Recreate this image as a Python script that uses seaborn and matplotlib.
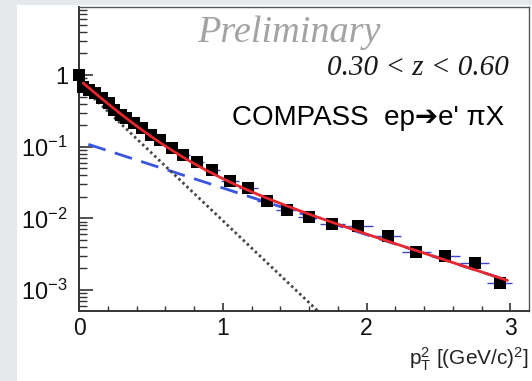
import numpy as np
import pandas as pd
import matplotlib
matplotlib.use("Agg")
import matplotlib.pyplot as plt
import seaborn as sns
from matplotlib.patches import Rectangle
from matplotlib.ticker import FixedLocator, FixedFormatter, LogLocator, NullFormatter, MultipleLocator

# ---------------- data ----------------
pt2 = [0.00, 0.03, 0.07, 0.11, 0.16, 0.21, 0.24, 0.29, 0.33, 0.38,
       0.44, 0.50, 0.564, 0.645, 0.726, 0.819, 0.923, 1.051, 1.178, 1.306,
       1.445, 1.603, 1.763, 1.944, 2.152, 2.345, 2.547, 2.751, 2.925]
yield_norm = [1.0, 0.687, 0.618, 0.556, 0.473, 0.403, 0.325, 0.277, 0.249, 0.212,
              0.181, 0.146, 0.124, 0.095, 0.0766, 0.0618, 0.0466, 0.0332, 0.0263, 0.0175,
              0.0131, 0.0104, 0.0084, 0.0078, 0.0056, 0.0034, 0.0030, 0.0024, 0.00124]
pt2_halfwidth = [0.01, 0.015, 0.02, 0.02, 0.025, 0.025, 0.025, 0.025, 0.025, 0.03,
                 0.03, 0.03, 0.035, 0.04, 0.045, 0.05, 0.055, 0.065, 0.065, 0.065,
                 0.075, 0.08, 0.087, 0.10, 0.09, 0.10, 0.10, 0.10, 0.085]

# two-exponential fit components: A * exp(-b * pT^2)
narrow_A, narrow_b = 0.75, 4.39
wide_A, wide_b = 0.119, 1.50
narrow_range = [0.02, 1.75]
wide_range = [0.065, 3.0]
total_range = [0.03, 2.98]

x_ticks = [0, 1, 2, 3]
x_ticklabels = ["0", "1", "2", "3"]
y_ticks = [1, 1e-1, 1e-2, 1e-3]
y_ticklabels = ["1", r"$10^{-1}$", r"$10^{-2}$", r"$10^{-3}$"]

# ---------------- style ----------------
sns.set_style("ticks")
plt.rcParams["font.family"] = ["Liberation Sans", "DejaVu Sans"]
plt.rcParams["mathtext.fontset"] = "custom"
plt.rcParams["mathtext.rm"] = "Liberation Sans"
plt.rcParams["mathtext.it"] = "Liberation Sans:italic"
plt.rcParams["mathtext.bf"] = "Liberation Sans:bold"

fig = plt.figure(figsize=(5.32, 3.81), dpi=100)
fig.patch.set_facecolor("white")
ax = fig.add_axes([79 / 532, 1 - 311 / 381, 450 / 532, 304 / 381])
ax.set_facecolor("white")

df = pd.DataFrame({"pt2": pt2, "y": yield_norm, "xerr": pt2_halfwidth})

# fit curves
def comp(A, b, rng, n=200):
    xx = np.linspace(rng[0], rng[1], n)
    return xx, A * np.exp(-b * xx)

xn, yn = comp(narrow_A, narrow_b, narrow_range)
xw, yw = comp(wide_A, wide_b, wide_range)
xt = np.linspace(total_range[0], total_range[1], 300)
yt = narrow_A * np.exp(-narrow_b * xt) + wide_A * np.exp(-wide_b * xt)

sns.lineplot(x=xw, y=yw, ax=ax, color="#3a55e0", lw=2.0, zorder=2,
             estimator=None, sort=False)
ax.lines[-1].set_dashes([6.5, 3.5])
sns.lineplot(x=xn, y=yn, ax=ax, color="#444444", lw=2.0, zorder=2,
             estimator=None, sort=False)
ax.lines[-1].set_dashes([0.9, 1.1])

# error bars
ax.errorbar(df["pt2"], df["y"], xerr=df["xerr"], fmt="none",
            ecolor="#3b47c8", elinewidth=1.0, capsize=0, zorder=3, clip_on=False)
# markers
sns.scatterplot(data=df, x="pt2", y="y", ax=ax, marker="s", s=66, color="black",
                edgecolor="black", linewidth=0, zorder=4, clip_on=False)

sns.lineplot(x=xt, y=yt, ax=ax, color="#e8262e", lw=2.0, zorder=5,
             estimator=None, sort=False)

ax.set_yscale("log")
ax.set_xlim(0, 3.13)
ax.set_ylim(5.1e-4, 8.9)

ax.xaxis.set_major_locator(FixedLocator(x_ticks))
ax.xaxis.set_major_formatter(FixedFormatter(x_ticklabels))
ax.xaxis.set_minor_locator(MultipleLocator(0.2))
ax.yaxis.set_major_locator(FixedLocator(y_ticks))
ax.yaxis.set_major_formatter(FixedFormatter(y_ticklabels))
ax.yaxis.set_minor_locator(LogLocator(base=10, subs=np.arange(2, 10)))
ax.yaxis.set_minor_formatter(NullFormatter())

ax.tick_params(axis="both", which="both", direction="in", colors="#333333",
               labelcolor="#111111", top=False, right=False)
ax.tick_params(axis="y", which="major", length=10, width=1.2, labelsize=17, pad=8)
ax.tick_params(axis="y", which="minor", length=6, width=1.0)
ax.tick_params(axis="x", which="major", length=6, width=1.2, labelsize=16.5, pad=4)
ax.tick_params(axis="x", which="minor", length=3.5, width=1.0)

for side in ["left", "bottom"]:
    ax.spines[side].set_color("#333333")
    ax.spines[side].set_linewidth(1.4)
for side in ["top", "right"]:
    ax.spines[side].set_color("#555555")
    ax.spines[side].set_linewidth(1.0)

ax.set_xlabel(r"$\mathrm{p}_{\mathrm{T}}^{2}$ [(GeV/c)$^{2}$]", fontsize=15,
              loc="right", labelpad=4, color="#222222")
ax.set_ylabel("")

# annotations
ax.text(0.467, 0.885, "Preliminary", transform=ax.transAxes, ha="center", va="baseline",
        fontsize=27.5, style="italic", color="#a3a3a3", family="Liberation Serif")
ax.text(0.955, 0.775, "0.30 < z < 0.60", transform=ax.transAxes, ha="right", va="baseline",
        fontsize=21, style="italic", color="#1a1a1a", family="Liberation Serif")
ax.text(0.945, 0.613, "COMPASS  ep\u2794e' \u03c0X", transform=ax.transAxes, ha="right",
        va="baseline", fontsize=20, color="black",
        family=["Liberation Sans", "DejaVu Sans"])

# slide background strips
fig.add_artist(Rectangle((0, 0), 17 / 532, 1, transform=fig.transFigure,
                         facecolor="#e6e9eb", edgecolor="none", zorder=10))
fig.add_artist(Rectangle((0, 1 - 5 / 381), 1, 5 / 381, transform=fig.transFigure,
                         facecolor="#e6e9eb", edgecolor="none", zorder=10))

fig.savefig("out.png", dpi=100, facecolor="white")
